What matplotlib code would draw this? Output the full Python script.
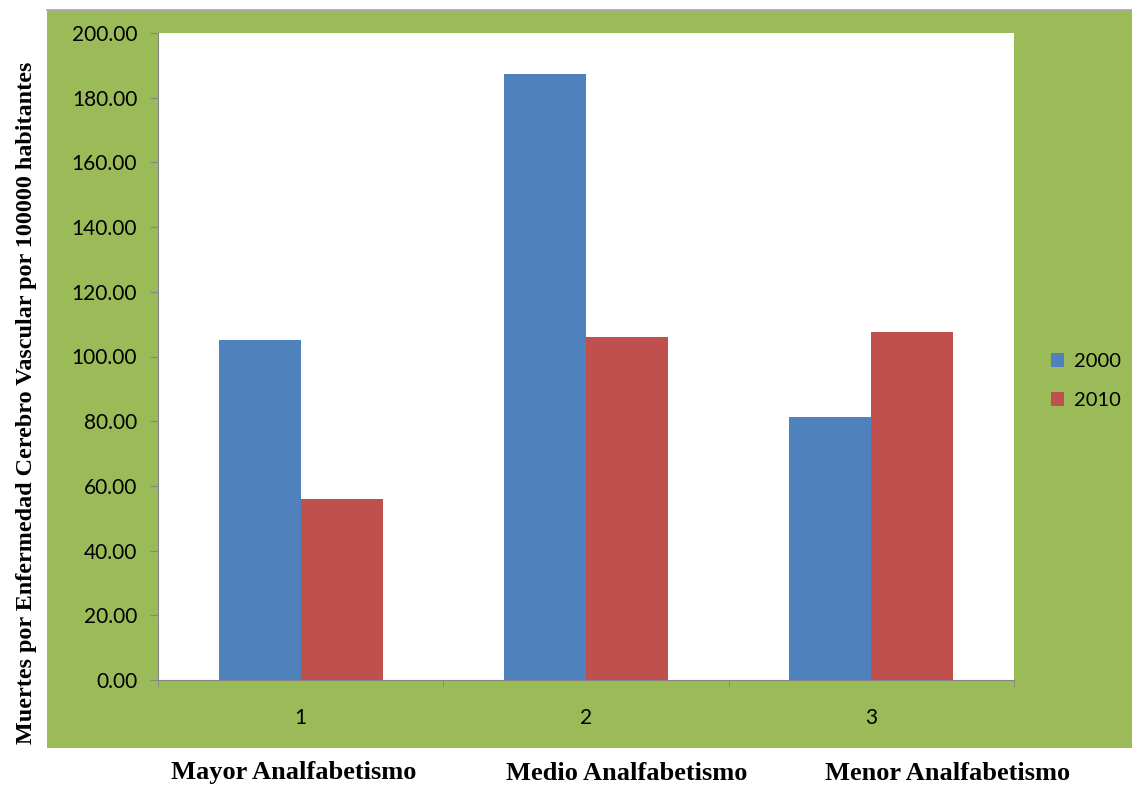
import matplotlib
matplotlib.use("Agg")
import matplotlib.pyplot as plt
import numpy as np
from matplotlib.patches import Rectangle
from matplotlib.lines import Line2D

# tasas por 100000 habitantes
grupos = ["1", "2", "3"]
nombres_grupos = ["Mayor Analfabetismo", "Medio Analfabetismo", "Menor Analfabetismo"]
anios = ["2000", "2010"]
tasa_2000 = [105.2, 187.3, 81.3]
tasa_2010 = [55.9, 106.1, 107.6]

verde = "#9BBB59"
azul = "#4F81BD"
rojo = "#C0504D"
gris = "#868686"

fig = plt.figure(figsize=(11.32, 7.87), dpi=100)
fig.patch.set_facecolor("white")

# fondo verde del area del grafico
fondo = Rectangle((47 / 1132, 1 - 748 / 787), 1 - 47 / 1132, (748 - 10) / 787,
                  transform=fig.transFigure, facecolor=verde, edgecolor="none", zorder=-5)
fig.patches.append(fondo)
fig.add_artist(Line2D([47 / 1132, 1], [1 - 10 / 787] * 2, transform=fig.transFigure,
                      color="#A6A6A6", lw=1.2, zorder=-4))

ax = fig.add_axes([158 / 1132, 1 - 680 / 787, (1014 - 158) / 1132, (680 - 33) / 787])
ax.set_zorder(2)
ax.set_facecolor("white")

x = np.arange(len(grupos))
ancho = 0.287
ax.bar(x - ancho / 2, tasa_2000, ancho, color=azul, label=anios[0], zorder=2)
ax.bar(x + ancho / 2, tasa_2010, ancho, color=rojo, label=anios[1], zorder=2)

ax.set_xlim(-0.5, 2.5)
ax.set_ylim(0, 200)
ax.set_yticks(np.arange(0, 201, 20))
ax.set_yticklabels([f"{v:.2f}" for v in np.arange(0, 201, 20)])
ax.set_xticks(x)
ax.set_xticklabels(grupos)
ax.set_xticks([-0.5, 0.5, 1.5, 2.5], minor=True)

fuente = "Lato"
for lab in ax.get_yticklabels() + ax.get_xticklabels():
    lab.set_fontfamily(fuente)
    lab.set_fontsize(15)
    lab.set_color("black")

ax.tick_params(axis="y", direction="out", length=6, color=gris, pad=9)
ax.tick_params(axis="x", which="major", length=0, pad=20)
ax.tick_params(axis="x", which="minor", direction="out", length=5, color=gris)

for lado in ["top", "right"]:
    ax.spines[lado].set_visible(False)
ax.spines["left"].set_color(gris)
ax.spines["bottom"].set_color(gris)

leg = ax.legend(loc="center left", bbox_to_anchor=(1.022, 0.462), frameon=False,
                prop={"family": fuente, "size": 14.5}, handlelength=0.65, handleheight=0.65,
                handletextpad=0.5, labelspacing=1.1)

fig.text(27 / 1132, 1 - 403 / 787,
         "Muertes por Enfermedad Cerebro Vascular por 100000 habitantes",
         rotation=90, ha="center", va="center", fontsize=17.4,
         family="Liberation Serif", weight="bold")

for cx, nombre in zip([294, 627, 948], nombres_grupos):
    fig.text(cx / 1132, 1 - 773 / 787, nombre, ha="center", va="center",
             fontsize=19, family="Liberation Serif", weight="bold")

fig.savefig("out.png", dpi=100)
